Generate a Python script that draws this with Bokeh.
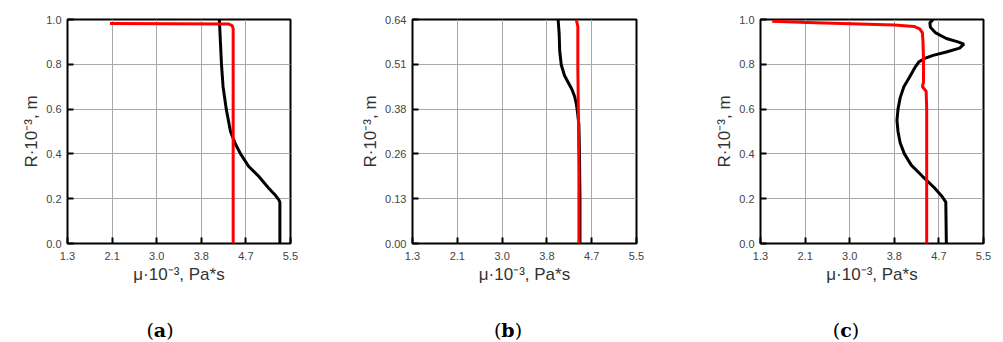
from bokeh.plotting import figure
from bokeh.models import Range1d, FixedTicker, NumeralTickFormatter, Div
from bokeh.layouts import row, column
from bokeh.embed import file_html
from bokeh.resources import INLINE

# ---- data ----
x_ticks = [1.3, 2.14, 2.98, 3.82, 4.66, 5.5]
x_tick_labels = ["1.3", "2.1", "3.0", "3.8", "4.7", "5.5"]

y_ticks_ac = [0.0, 0.2, 0.4, 0.6, 0.8, 1.0]
y_tick_labels_ac = ["0.0", "0.2", "0.4", "0.6", "0.8", "1.0"]
y_ticks_b = [0.0, 0.128, 0.256, 0.384, 0.512, 0.64]
y_tick_labels_b = ["0.00", "0.13", "0.26", "0.38", "0.51", "0.64"]

# panel (a)
a_black_mu = [4.16, 4.18, 4.20, 4.23, 4.29, 4.37, 4.46, 4.56, 4.71, 4.90, 5.09, 5.22, 5.28, 5.30, 5.30]
a_black_R = [1.0, 0.90, 0.80, 0.70, 0.60, 0.50, 0.445, 0.40, 0.345, 0.30, 0.247, 0.214, 0.195, 0.185, 0.0]
a_red_mu = [2.1, 4.33, 4.40, 4.42, 4.42]
a_red_R = [0.982, 0.980, 0.973, 0.96, 0.0]

# panel (b)
b_black_mu = [4.03, 4.05, 4.06, 4.09, 4.15, 4.22, 4.29, 4.34, 4.37, 4.39, 4.42, 4.43, 4.44, 4.44]
b_black_R = [0.64, 0.60, 0.55, 0.51, 0.48, 0.46, 0.44, 0.42, 0.40, 0.38, 0.34, 0.26, 0.13, 0.0]
b_red_mu = [4.37, 4.40, 4.40, 4.41, 4.42, 4.42]
b_red_R = [0.64, 0.62, 0.50, 0.38, 0.20, 0.0]

# panel (c)
c_black_mu = [4.55, 4.49, 4.50, 4.60, 4.80, 5.02, 5.13, 5.05, 4.80, 4.55, 4.38, 4.28, 4.22, 4.10,
              4.00, 3.93, 3.89, 3.87, 3.89, 3.93, 4.01, 4.14, 4.35, 4.57, 4.72, 4.79, 4.80]
c_black_R = [1.0, 0.985, 0.965, 0.94, 0.915, 0.90, 0.89, 0.872, 0.855, 0.84, 0.825, 0.81, 0.79, 0.74,
             0.70, 0.65, 0.60, 0.55, 0.50, 0.45, 0.40, 0.35, 0.30, 0.25, 0.21, 0.185, 0.0]
c_red_mu = [1.52, 2.18, 3.0, 3.82, 4.19, 4.30, 4.35, 4.36, 4.37, 4.37, 4.35, 4.42, 4.43, 4.43, 4.43]
c_red_R = [0.992, 0.987, 0.981, 0.975, 0.969, 0.958, 0.94, 0.90, 0.82, 0.72, 0.70, 0.68, 0.60, 0.30, 0.0]

panel_letters = ["a", "b", "c"]

x_label = "\u03bc\u00b710\u207b\u00b3, Pa*s"
y_label = "R\u00b710\u207b\u00b3, m"


def make_fig(width, left, right, bmu, bR, rmu, rR, yticks, ylabels, ymax, yfmt):
    p = figure(width=width, height=300, x_range=Range1d(1.3, 5.5), y_range=Range1d(0, ymax),
               output_backend="svg", toolbar_location=None,
               min_border_left=left, min_border_right=right, min_border_top=19, min_border_bottom=57)
    p.background_fill_color = "white"
    p.border_fill_color = "white"
    p.outline_line_color = "black"
    p.outline_line_width = 2
    p.outline_line_alpha = 1.0

    p.xaxis.ticker = FixedTicker(ticks=x_ticks)
    p.xaxis.formatter = NumeralTickFormatter(format="0.0")
    p.xaxis.major_label_overrides = {t: l for t, l in zip(x_ticks, x_tick_labels)}
    p.yaxis.ticker = FixedTicker(ticks=yticks)
    p.yaxis.formatter = NumeralTickFormatter(format=yfmt)
    p.yaxis.major_label_overrides = {t: l for t, l in zip(yticks, ylabels)}

    for ax in (p.xaxis, p.yaxis):
        ax.axis_line_color = None
        ax.major_tick_in = 6
        ax.major_tick_out = 0
        ax.major_tick_line_color = "black"
        ax.major_tick_line_width = 2
        ax.minor_tick_line_color = None
        ax.major_label_text_font = "Liberation Sans"
        ax.major_label_text_font_size = "11px"
        ax.major_label_text_color = "#444444"
        ax.axis_label_text_font = "Liberation Sans"
        ax.axis_label_text_font_size = "17px"
        ax.axis_label_text_font_style = "normal"
        ax.axis_label_text_color = "#333333"
    p.xaxis.major_label_standoff = 8
    p.yaxis.major_label_standoff = 6
    p.xaxis.axis_label = x_label
    p.yaxis.axis_label = y_label
    p.xaxis.axis_label_standoff = 2
    p.yaxis.axis_label_standoff = 2

    p.xgrid.ticker = FixedTicker(ticks=x_ticks)
    p.ygrid.ticker = FixedTicker(ticks=yticks)
    p.grid.grid_line_color = "#a8a8a8"
    p.grid.grid_line_width = 1

    p.line(bmu, bR, line_color="black", line_width=3)
    p.line(rmu, rR, line_color="#ff0000", line_width=3)
    return p


def make_div(letter, width, center):
    html = ('<div style="width:60px;margin-left:%dpx;text-align:center;font-family:\'DejaVu Serif\';'
            'font-size:19px;line-height:22px;padding-top:19px;color:#000;">(<b>%s</b>)</div>'
            % (center - 30, letter))
    return Div(text=html, width=width, height=42, margin=(0, 0, 0, 0))


fa = make_fig(330, 67, 40, a_black_mu, a_black_R, a_red_mu, a_red_R, y_ticks_ac, y_tick_labels_ac, 1.0, "0.0")
fb = make_fig(330, 82, 24, b_black_mu, b_black_R, b_red_mu, b_red_R, y_ticks_b, y_tick_labels_b, 0.64, "0.00")
fc = make_fig(343, 100, 20, c_black_mu, c_black_R, c_red_mu, c_red_R, y_ticks_ac, y_tick_labels_ac, 1.0, "0.0")

layout = row(column(fa, make_div(panel_letters[0], 330, 160)),
             column(fb, make_div(panel_letters[1], 330, 178)),
             column(fc, make_div(panel_letters[2], 343, 186)))

open("out.html", "w").write(file_html(layout, INLINE))
